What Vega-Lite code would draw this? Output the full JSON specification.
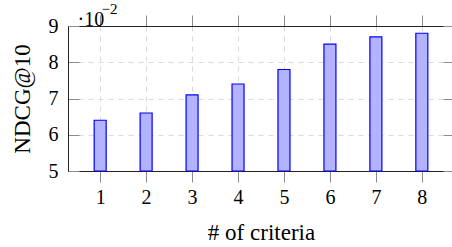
{
  "$schema": "https://vega.github.io/schema/vega-lite/v6.json",
  "width": 386,
  "height": 145,
  "autosize": {"type": "none"},
  "padding": {"left": 68, "top": 26, "right": 0, "bottom": 76},
  "background": "white",
  "config": {
    "view": {"stroke": null},
    "font": "Liberation Serif",
    "axis": {
      "labelFont": "Liberation Serif",
      "titleFont": "Liberation Serif",
      "labelColor": "black",
      "titleColor": "black",
      "titleFontWeight": "normal",
      "domainColor": "#222222",
      "domainWidth": 1,
      "tickColor": "#8c8c8c",
      "tickWidth": 1,
      "gridColor": "#dadada",
      "gridDash": [5, 5],
      "gridWidth": 1,
      "labelFontSize": 20,
      "titleFontSize": 23
    }
  },
  "data": {
    "values": [
      {"criteria": 1, "ndcg": 6.4},
      {"criteria": 2, "ndcg": 6.6},
      {"criteria": 3, "ndcg": 7.1},
      {"criteria": 4, "ndcg": 7.4},
      {"criteria": 5, "ndcg": 7.8},
      {"criteria": 6, "ndcg": 8.5},
      {"criteria": 7, "ndcg": 8.7},
      {"criteria": 8, "ndcg": 8.8}
    ]
  },
  "layer": [
    {
      "mark": {"type": "bar", "width": 12, "fill": "#b3b3ff", "stroke": "#0000ff", "strokeWidth": 1.2},
      "encoding": {
        "x": {
          "field": "criteria", "type": "quantitative",
          "scale": {"domain": [0.3, 8.7], "nice": false, "zero": false, "padding": 0},
          "axis": {
            "orient": "bottom", "values": [1, 2, 3, 4, 5, 6, 7, 8], "grid": true,
            "tickSize": 11, "labelPadding": 5, "labelBaseline": "top",
            "title": "# of criteria", "titleY": 68, "titleBaseline": "alphabetic"
          }
        },
        "y": {
          "field": "ndcg", "type": "quantitative",
          "scale": {"domain": [5, 9], "nice": false, "zero": false, "padding": 0},
          "axis": {
            "orient": "left", "values": [5, 6, 7, 8, 9], "grid": true,
            "tickSize": -11, "labelPadding": 21,
            "title": "NDCG@10", "titleX": -39, "titleY": 72.5, "titleAlign": "center",
            "titleBaseline": "alphabetic", "titleAngle": -90
          }
        },
        "y2": {"datum": 5}
      }
    },
    {
      "mark": {"type": "bar", "width": 12, "opacity": 0},
      "encoding": {
        "x": {
          "field": "criteria", "type": "quantitative",
          "scale": {"domain": [0.3, 8.7], "nice": false, "zero": false, "padding": 0},
          "axis": {
            "orient": "top", "values": [1, 2, 3, 4, 5, 6, 7, 8], "grid": false,
            "tickSize": 11, "labels": false,
            "title": "·10", "titleX": 9, "titleY": -1, "titleAlign": "left",
            "titleBaseline": "alphabetic", "titleFontSize": 20
          }
        },
        "y": {
          "field": "ndcg", "type": "quantitative",
          "scale": {"domain": [5, 9], "nice": false, "zero": false, "padding": 0},
          "axis": {
            "orient": "right", "values": [5, 6, 7, 8, 9], "grid": false,
            "tickSize": -11, "labels": false, "domain": false,
            "title": "−2", "titleX": -353, "titleY": -13, "titleAlign": "left",
            "titleBaseline": "alphabetic", "titleAngle": 0, "titleFontSize": 15
          }
        },
        "y2": {"datum": 5}
      }
    }
  ],
  "resolve": {"axis": {"x": "independent", "y": "independent"}}
}
